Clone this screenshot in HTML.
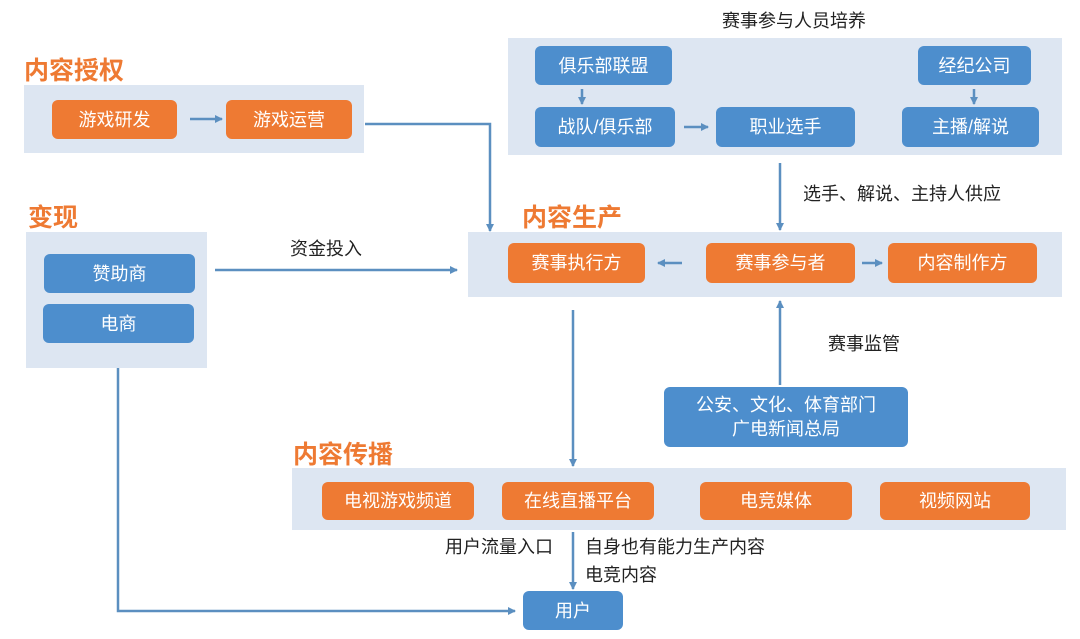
<!DOCTYPE html>
<html><head><meta charset="utf-8"><style>
body{margin:0;width:1080px;height:639px;background:#fff;position:relative;overflow:hidden;font-family:"Liberation Sans","Noto Sans CJK SC",sans-serif}
div{position:absolute;box-sizing:border-box}
.p{background:#dde6f2}
.o,.b{color:#fff;font-size:18px;display:flex;align-items:center;justify-content:center;border-radius:6px;text-align:center;line-height:24px}
.o{background:#ee7a33}.b{background:#4d8ecd}
.t{color:#ee7a33;font-weight:bold;font-size:25px;white-space:nowrap}
.l{font-size:18px;color:#222;white-space:nowrap}
svg{position:absolute;left:0;top:0}
</style></head><body>
<div class="t" style="left:24px;top:51px">内容授权</div>
<div class="p" style="left:24px;top:85px;width:340px;height:68px"></div>
<div class="o" style="left:52px;top:100px;width:125px;height:39px">游戏研发</div>
<div class="o" style="left:226px;top:100px;width:126px;height:39px">游戏运营</div>

<div class="t" style="left:28px;top:198px">变现</div>
<div class="p" style="left:26px;top:232px;width:181px;height:136px"></div>
<div class="b" style="left:44px;top:254px;width:151px;height:39px">赞助商</div>
<div class="b" style="left:43px;top:304px;width:151px;height:39px">电商</div>
<div class="l" style="left:290px;top:235px">资金投入</div>

<div class="l" style="left:722px;top:7px">赛事参与人员培养</div>
<div class="p" style="left:508px;top:38px;width:554px;height:117px"></div>
<div class="b" style="left:535px;top:46px;width:137px;height:39px">俱乐部联盟</div>
<div class="b" style="left:918px;top:46px;width:113px;height:39px">经纪公司</div>
<div class="b" style="left:535px;top:107px;width:140px;height:40px">战队/俱乐部</div>
<div class="b" style="left:716px;top:107px;width:139px;height:40px">职业选手</div>
<div class="b" style="left:902px;top:107px;width:137px;height:40px">主播/解说</div>
<div class="l" style="left:803px;top:180px">选手、解说、主持人供应</div>

<div class="t" style="left:522px;top:198px">内容生产</div>
<div class="p" style="left:468px;top:232px;width:594px;height:65px"></div>
<div class="o" style="left:508px;top:243px;width:137px;height:40px">赛事执行方</div>
<div class="o" style="left:706px;top:243px;width:149px;height:40px">赛事参与者</div>
<div class="o" style="left:888px;top:243px;width:149px;height:40px">内容制作方</div>
<div class="l" style="left:828px;top:330px">赛事监管</div>
<div class="b" style="left:664px;top:387px;width:244px;height:60px">公安、文化、体育部门<br>广电新闻总局</div>

<div class="t" style="left:293px;top:435px">内容传播</div>
<div class="p" style="left:292px;top:468px;width:774px;height:62px"></div>
<div class="o" style="left:322px;top:482px;width:152px;height:38px">电视游戏频道</div>
<div class="o" style="left:502px;top:482px;width:152px;height:38px">在线直播平台</div>
<div class="o" style="left:700px;top:482px;width:152px;height:38px">电竞媒体</div>
<div class="o" style="left:880px;top:482px;width:150px;height:38px">视频网站</div>
<div class="l" style="left:445px;top:533px">用户流量入口</div>
<div class="l" style="left:585px;top:533px">自身也有能力生产内容</div>
<div class="l" style="left:585px;top:561px">电竞内容</div>
<div class="b" style="left:523px;top:591px;width:100px;height:39px">用户</div>

<svg width="1080" height="639">
<defs><marker id="a" markerWidth="8" markerHeight="8" refX="7" refY="4" orient="auto" markerUnits="userSpaceOnUse"><path d="M0,0L8,4L0,8z" fill="#5b8fc0"/></marker></defs>
<g stroke="#5b8fc0" stroke-width="2.5" fill="none" marker-end="url(#a)">
<path d="M190,119H222"/>
<path d="M365,124H490V231"/>
<path d="M215,270H457"/>
<path d="M582,89V104"/>
<path d="M974,89V104"/>
<path d="M684,127H708"/>
<path d="M780,163V230"/>
<path d="M682,263H658"/>
<path d="M862,263H882"/>
<path d="M780,385V301"/>
<path d="M573,310V466"/>
<path d="M573,532V589"/>
<path d="M118,368V611H515"/>
</g></svg>
</body></html>
